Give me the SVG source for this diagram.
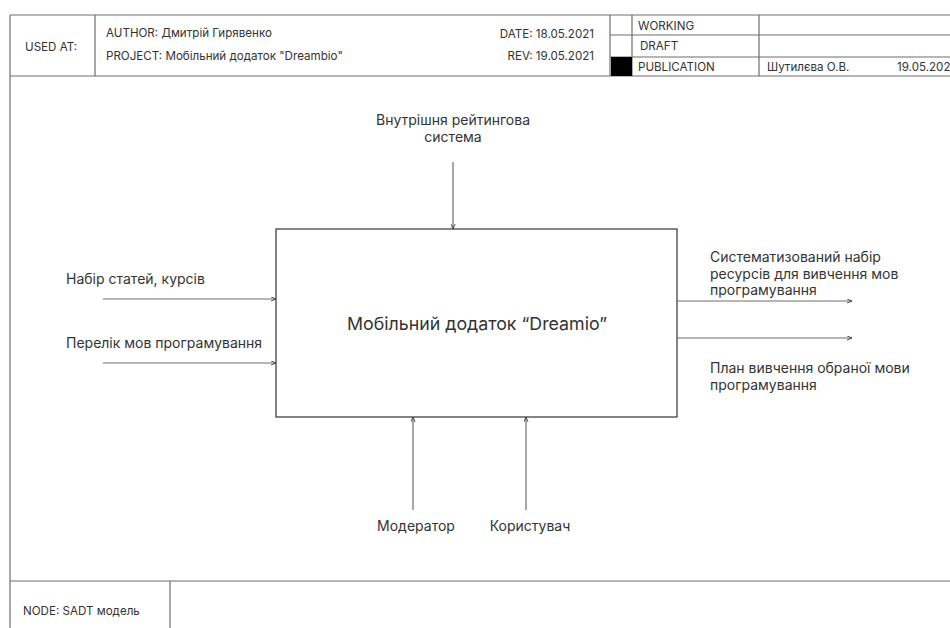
<svg xmlns="http://www.w3.org/2000/svg" width="950" height="628" viewBox="0 0 950 628">
<defs>
<style>
.frame{stroke:#6e6e6e;stroke-width:1.2;fill:none}
.t{font-family:Inter,"Noto Sans","Liberation Sans",sans-serif;fill:#333}
.hd{font-size:11.6px}
.lb{font-size:14px}
.mn{font-size:17.8px}
.box{fill:#fff;stroke:#333;stroke-width:1.2}
.arr{stroke:#6e6e6e;stroke-width:1.2;fill:none;marker-end:url(#ah)}
</style>
<marker id="ah" viewBox="0 0 6 6" refX="6" refY="3" markerWidth="5" markerHeight="5" markerUnits="userSpaceOnUse" orient="auto">
<path d="M0,0.5 L6,3 L0,5.5" fill="none" stroke="#333" stroke-width="1"/>
</marker>
</defs>
<rect width="950" height="628" fill="#fff"/>
<g id="frame">
<path class="frame" d="M10,15 H950 M10,15 V640 M10,76 H950 M10,581 H950 M95,15 V76 M610,15 V76 M632,15 V76 M759,15 V76 M610,35 H950 M610,57 H950 M170,581 V640"/>
<rect x="611" y="57" width="21" height="19" fill="#000"/>
<text class="t hd" x="25" y="51">USED AT:</text>
<text class="t hd" x="106" y="37">AUTHOR: Дмитрій Гирявенко</text>
<text class="t hd" x="106" y="60">PROJECT: Мобільний додаток "Dreambio"</text>
<text class="t hd" x="594" y="38" text-anchor="end">DATE: 18.05.2021</text>
<text class="t hd" x="594" y="60" text-anchor="end">REV: 19.05.2021</text>
<text class="t hd" x="638" y="30">WORKING</text>
<text class="t hd" x="640" y="50">DRAFT</text>
<text class="t hd" x="638" y="71">PUBLICATION</text>
<text class="t hd" x="767" y="71">Шутилєва О.В.</text>
<text class="t hd" x="897" y="71">19.05.202</text>
<text class="t hd" x="23" y="615">NODE: SADT модель</text>
</g>
<g id="node-main">
<rect class="box" x="276" y="229" width="401" height="188"/>
<text class="t mn" x="477" y="330" text-anchor="middle">Мобільний додаток “Dreamio”</text>
</g>
<g id="connectors">
<line class="arr" x1="453" y1="162" x2="453" y2="229"/>
<line class="arr" x1="103" y1="299" x2="276" y2="299"/>
<line class="arr" x1="103" y1="363" x2="276" y2="363"/>
<line class="arr" x1="677" y1="301" x2="852" y2="301"/>
<line class="arr" x1="677" y1="338" x2="852" y2="338"/>
<line class="arr" x1="413" y1="510" x2="413" y2="417"/>
<line class="arr" x1="526" y1="510" x2="526" y2="417"/>
</g>
<g id="labels">
<text class="t lb" x="453" y="125" text-anchor="middle">Внутрішня рейтингова</text>
<text class="t lb" x="453" y="142" text-anchor="middle">система</text>
<text class="t lb" x="66" y="284">Набір статей, курсів</text>
<text class="t lb" x="66" y="348">Перелік мов програмування</text>
<text class="t lb" x="710" y="262">Систематизований набір</text>
<text class="t lb" x="710" y="279">ресурсів для вивчення мов</text>
<text class="t lb" x="710" y="295">програмування</text>
<text class="t lb" x="710" y="373">План вивчення обраної мови</text>
<text class="t lb" x="710" y="390">програмування</text>
<text class="t lb" x="416" y="531" text-anchor="middle">Модератор</text>
<text class="t lb" x="530" y="531" text-anchor="middle">Користувач</text>
</g>
</svg>
